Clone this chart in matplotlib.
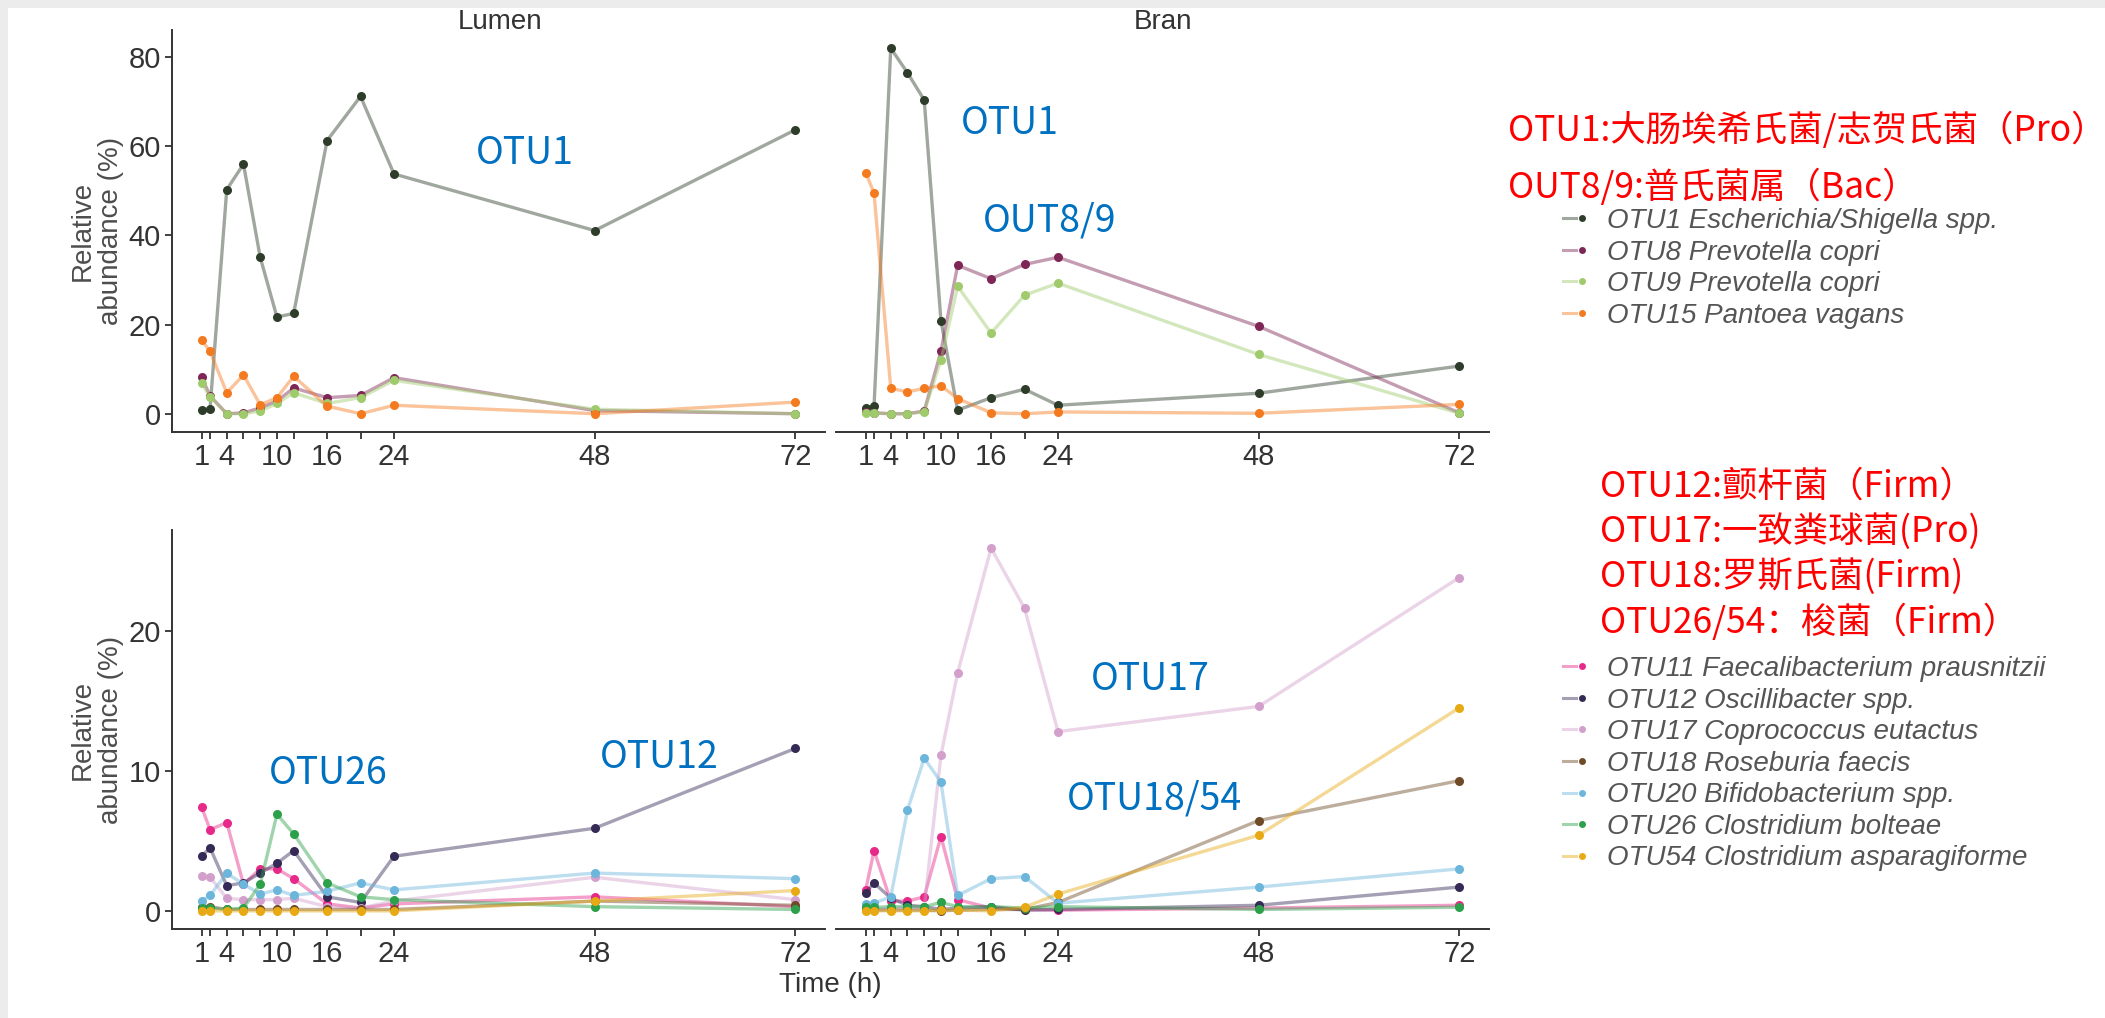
import matplotlib.pyplot as plt
from matplotlib.lines import Line2D
from matplotlib.legend_handler import HandlerTuple

# sampling times (h)
times = [1, 2, 4, 6, 8, 10, 12, 16, 20, 24, 48, 72]
time_labels = ['1', '', '4', '', '', '10', '', '16', '', '24', '48', '72']

# top row, Lumen / Bran
lumen_otu1 = [0.8, 1.1, 50.3, 56.0, 35.1, 21.7, 22.5, 61.3, 71.2, 53.8, 41.1, 63.7]
lumen_otu8 = [8.2, 4.0, 0.0, 0.2, 1.3, 2.8, 5.8, 3.6, 4.1, 8.1, 0.7, 0.0]
lumen_otu9 = [6.8, 3.8, 0.0, 0.0, 0.6, 2.3, 4.7, 2.3, 3.6, 7.5, 1.0, 0.0]
lumen_otu15 = [16.5, 14.0, 4.7, 8.7, 2.0, 3.6, 8.4, 1.7, 0.0, 1.9, 0.0, 2.6]

bran_otu1 = [1.3, 1.7, 82.0, 76.5, 70.4, 20.9, 0.8, 3.6, 5.5, 1.9, 4.6, 10.7]
bran_otu8 = [0.4, 0.2, 0.0, 0.0, 0.6, 14.0, 33.3, 30.3, 33.5, 35.1, 19.6, 0.2]
bran_otu9 = [0.2, 0.1, 0.0, 0.0, 0.4, 12.0, 28.6, 18.1, 26.6, 29.3, 13.3, 0.1]
bran_otu15 = [54.1, 49.5, 5.7, 4.9, 5.7, 6.3, 3.4, 0.2, 0.0, 0.4, 0.1, 2.1]

# bottom row, Lumen / Bran
lumen_otu11 = [7.4, 5.8, 6.3, 1.9, 3.0, 3.0, 2.3, 0.5, 0.2, 0.5, 1.0, 0.3]
lumen_otu12 = [3.9, 4.5, 1.8, 2.0, 2.7, 3.4, 4.3, 1.0, 0.6, 3.9, 5.9, 11.6]
lumen_otu17 = [2.5, 2.4, 0.9, 0.8, 0.8, 0.8, 0.9, 0.3, 0.2, 0.7, 2.4, 0.8]
lumen_otu18 = [0.3, 0.3, 0.1, 0.1, 0.1, 0.1, 0.1, 0.1, 0.1, 0.1, 0.7, 0.4]
lumen_otu20 = [0.7, 1.1, 2.7, 1.9, 1.2, 1.5, 1.1, 1.4, 2.0, 1.5, 2.7, 2.3]
lumen_otu26 = [0.2, 0.2, 0.1, 0.2, 1.9, 6.9, 5.5, 2.0, 1.0, 0.8, 0.3, 0.1]
lumen_otu54 = [0.0, 0.0, 0.0, 0.0, 0.0, 0.0, 0.0, 0.0, 0.0, 0.0, 0.7, 1.45]

bran_otu11 = [1.5, 4.3, 0.7, 0.7, 1.0, 5.3, 0.8, 0.2, 0.1, 0.05, 0.2, 0.4]
bran_otu12 = [1.3, 2.0, 0.9, 0.4, 0.3, 0.1, 0.2, 0.3, 0.05, 0.1, 0.4, 1.7]
bran_otu17 = [0.1, 0.1, 0.2, 0.2, 0.2, 11.1, 17.0, 25.9, 21.6, 12.8, 14.6, 23.8]
bran_otu18 = [0.05, 0.05, 0.05, 0.05, 0.05, 0.0, 0.05, 0.1, 0.1, 0.6, 6.45, 9.3]
bran_otu20 = [0.5, 0.55, 1.0, 7.2, 10.9, 9.2, 1.1, 2.3, 2.45, 0.55, 1.7, 3.0]
bran_otu26 = [0.25, 0.25, 0.3, 0.3, 0.3, 0.6, 0.3, 0.3, 0.2, 0.3, 0.1, 0.26]
bran_otu54 = [0.0, 0.0, 0.0, 0.0, 0.0, 0.05, 0.05, 0.0, 0.26, 1.2, 5.4, 14.5]

top_series = [
    ('OTU1 Escherichia/Shigella spp.', '#2e3d2a', lumen_otu1, bran_otu1),
    ('OTU8 Prevotella copri', '#7e2655', lumen_otu8, bran_otu8),
    ('OTU9 Prevotella copri', '#9fcb6c', lumen_otu9, bran_otu9),
    ('OTU15 Pantoea vagans', '#f47a1f', lumen_otu15, bran_otu15),
]
bottom_series = [
    ('OTU11 Faecalibacterium prausnitzii', '#e7298a', lumen_otu11, bran_otu11),
    ('OTU12 Oscillibacter spp.', '#352a55', lumen_otu12, bran_otu12),
    ('OTU17 Coprococcus eutactus', '#d3a0cc', lumen_otu17, bran_otu17),
    ('OTU18 Roseburia faecis', '#6e4b26', lumen_otu18, bran_otu18),
    ('OTU20 Bifidobacterium spp.', '#6cb6dc', lumen_otu20, bran_otu20),
    ('OTU26 Clostridium bolteae', '#2ca04a', lumen_otu26, bran_otu26),
    ('OTU54 Clostridium asparagiforme', '#e8aa14', lumen_otu54, bran_otu54),
]

note_family = ['Noto Sans CJK SC', 'DejaVu Sans']
plt.rcParams['font.family'] = ['Liberation Sans', 'DejaVu Sans']

W, H = 2105, 1018
fig = plt.figure(figsize=(W / 100, H / 100), dpi=100, facecolor='#ececec')
fig.add_artist(plt.Rectangle((8 / W, 0), 1, 1 - 8 / H, transform=fig.transFigure,
                             facecolor='white', edgecolor='none', zorder=-5))


def box(x0, x1, y0, y1):
    return [x0 / W, 1 - y1 / H, (x1 - x0) / W, (y1 - y0) / H]


def draw_row(ax_l, ax_r, series):
    vmax = max(max(max(s[2]), max(s[3])) for s in series)
    lo, hi = -0.05 * vmax, vmax * 1.05
    handles = []
    for label, color, lum, bran in series:
        for ax, vals in ((ax_l, lum), (ax_r, bran)):
            ax.plot(times, vals, '-', color=color, lw=2.4, alpha=0.45, solid_capstyle='round')
            ax.plot(times, vals, 'o', color=color, ms=6.5, mec='none')
        handles.append((Line2D([], [], color=color, lw=2.2, alpha=0.45),
                        Line2D([], [], color=color, marker='o', ms=5, lw=0, mec='none')))
    for ax in (ax_l, ax_r):
        ax.set_xlim(-2.55, 75.55)
        ax.set_ylim(lo, hi)
        ax.set_xticks(times)
        ax.set_xticklabels(time_labels)
        for side in ('top', 'right'):
            ax.spines[side].set_visible(False)
        for side in ('left', 'bottom'):
            ax.spines[side].set_color('#333333')
            ax.spines[side].set_linewidth(1.4)
        ax.tick_params(labelsize=21, colors='#333333', length=5, width=1.3, pad=3)
        ax.set_facecolor('none')
    ax_r.spines['left'].set_visible(False)
    ax_r.tick_params(axis='y', left=False, labelleft=False)
    return handles


ax_tl = fig.add_axes(box(172, 825, 30, 432))
ax_tr = fig.add_axes(box(836, 1489, 30, 432))
ax_bl = fig.add_axes(box(172, 825, 530, 929))
ax_br = fig.add_axes(box(836, 1489, 530, 929))

top_handles = draw_row(ax_tl, ax_tr, top_series)
bottom_handles = draw_row(ax_bl, ax_br, bottom_series)
ax_tl.set_yticks([0, 20, 40, 60, 80])
ax_bl.set_yticks([0, 10, 20])

fig.text(500 / W, 1 - 22 / H, 'Lumen', ha='center', va='center', fontsize=20, color='#333333')
fig.text(1163 / W, 1 - 22 / H, 'Bran', ha='center', va='center', fontsize=20, color='#333333')
for yc in (231, 730):
    fig.text(97 / W, 1 - yc / H, 'Relative\nabundance (%)', rotation=90, ha='center', va='center',
             fontsize=20, color='#4d4d4d', linespacing=1.1)
fig.text(830 / W, 1 - 985 / H, 'Time (h)', ha='center', va='center', fontsize=20, color='#333333')

# blue callouts
blue = '#0070c0'
for label, xc, yc in [('OTU1', 525, 154), ('OTU1', 1010, 124), ('OUT8/9', 1050, 221),
                      ('OTU26', 328, 774), ('OTU12', 659, 757),
                      ('OTU17', 1150, 679), ('OTU18/54', 1154, 799)]:
    fig.text(xc / W, 1 - yc / H, label, ha='center', va='center', fontsize=27,
             color=blue, family=note_family)

# red notes
red_top = ['OTU1:大肠埃希氏菌/志贺氏菌（Pro）', 'OUT8/9:普氏菌属（Bac）']
red_bottom = ['OTU12:颤杆菌（Firm）', 'OTU17:一致粪球菌(Pro)', 'OTU18:罗斯氏菌(Firm)',
              'OTU26/54：梭菌（Firm）']
for txt, yc in zip(red_top, (130, 187)):
    fig.text(1508 / W, 1 - yc / H, txt, ha='left', va='center', fontsize=25.5,
             color='#ff0000', family=note_family)
for txt, yc in zip(red_bottom, (487, 532, 577, 622)):
    fig.text(1600 / W, 1 - yc / H, txt, ha='left', va='center', fontsize=25.5,
             color='#ff0000', family=note_family)

for handles, series, ytop in ((top_handles, top_series, 208), (bottom_handles, bottom_series, 656)):
    fig.legend(handles, [s[0] for s in series], handler_map={tuple: HandlerTuple(ndivide=None)},
               loc='upper left', bbox_to_anchor=(1563 / W, 1 - ytop / H), frameon=False,
               prop={'style': 'italic', 'size': 20}, labelcolor='#555555',
               handlelength=0.9, handletextpad=0.7, labelspacing=0.2,
               borderpad=0, borderaxespad=0)

fig.savefig('out.png', dpi=100, facecolor=fig.get_facecolor())
